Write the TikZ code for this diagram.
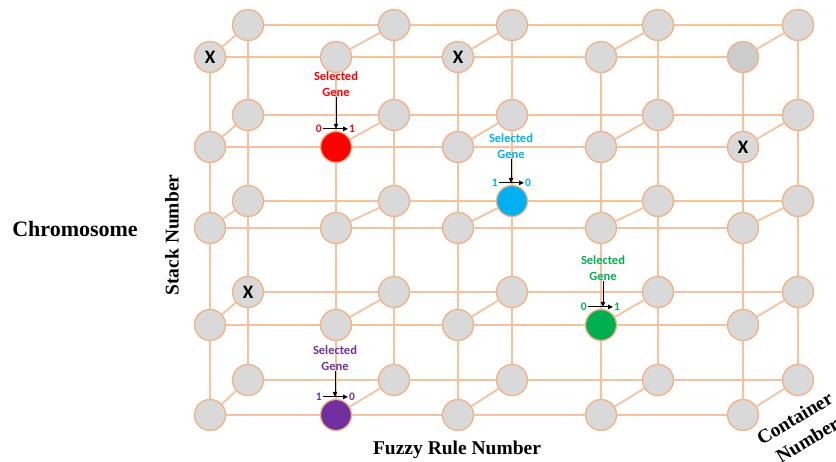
\documentclass[tikz,border=0pt]{standalone}
\usepackage{fontspec}
\setmainfont{Liberation Serif}
\newfontfamily\calibri{Carlito}
\usetikzlibrary{positioning,arrows.meta,backgrounds}
\definecolor{peach}{RGB}{246,194,158}
\definecolor{peachdark}{RGB}{244,177,131}
\definecolor{cellgray}{RGB}{217,217,217}
\definecolor{darkcell}{RGB}{204,204,204}
\definecolor{genered}{RGB}{255,0,0}
\definecolor{geneblue}{RGB}{0,176,240}
\definecolor{genegreen}{RGB}{0,176,80}
\definecolor{genepurple}{RGB}{112,48,160}
\newcommand{\gene}[5]{%
	\node[sel,text=#2] (#1-sel) at (#3) {Selected\\Gene};
	\coordinate (#1-l) at ([xshift=-13pt,yshift=2pt]#1.north);
	\coordinate (#1-r) at ([xshift=12pt,yshift=2pt]#1.north);
	\draw[flip] (#1-sel) -- (#1-sel |- #1-l);
	\draw[flip] (#1-l) -- (#1-r);
	\node[bit,text=#2,left=1pt of #1-l] (#1-lo) {#4};
	\node[bit,text=#2,right=1pt of #1-r] (#1-hi) {#5};
}
\tikzset{
	cell/.style={circle,draw=peachdark,line width=1.3pt,fill=cellgray,minimum size=31pt,inner sep=0pt},
	link/.style={peach,line width=1.8pt},
	sel/.style={font=\calibri\bfseries\fontsize{12.5}{16}\selectfont,align=center,inner sep=0pt},
	bit/.style={font=\calibri\bfseries\fontsize{11.5}{12}\selectfont,inner sep=0pt},
	flip/.style={-{Triangle[length=5pt,width=4.5pt]},line width=1pt,black},
	xmark/.style={font=\calibri\bfseries\fontsize{19}{19}\selectfont,inner sep=0pt},
	axis/.style={font=\bfseries\fontsize{19.5}{25}\selectfont,inner sep=0pt},
	f-2-2/.style={fill=genered},
	b-3-3/.style={fill=geneblue},
	f-4-4/.style={fill=genegreen},
	f-2-5/.style={fill=genepurple},
	f-5-1/.style={fill=darkcell}
}

\begin{document}
\begin{tikzpicture}[x=1pt,y=-1pt]
	\useasboundingbox (0,0) rectangle (836,461);
	\foreach \x [count=\i] in {210,336,458,601,743}
		\foreach \y [count=\j] in {57,147,228,325,415}
			\node[cell,f-\i-\j/.try] (f-\i-\j) at (\x,\y) {};
	\foreach \x [count=\i] in {248,394,512,658,798}
		\foreach \y [count=\j] in {25,115,201,292,380}
			\node[cell,b-\i-\j/.try] (b-\i-\j) at (\x,\y) {};

	\foreach \p in {f,b}
		\foreach \i in {1,...,5}
			\foreach \j/\k in {1/2,2/3,3/4,4/5} {
				\draw[link] (\p-\i-\j) -- (\p-\i-\k);
				\draw[link] (\p-\j-\i) -- (\p-\k-\i);
			}
	\foreach \i in {1,...,5}
		\foreach \j in {1,...,5}
			\draw[link] (f-\i-\j) -- (b-\i-\j);

	\node[xmark] (x1) at (f-1-1) {X};
	\node[xmark] (x2) at (f-3-1) {X};
	\node[xmark] (x3) at (f-5-2) {X};
	\node[xmark] (x4) at (b-1-4) {X};

	\gene{f-2-2}{genered}{336,84}{0}{1}
	\gene{b-3-3}{geneblue}{511,146}{1}{0}
	\gene{f-4-4}{genegreen}{603,268}{0}{1}
	\gene{f-2-5}{genepurple}{335,358}{1}{0}

	\node[axis,font=\bfseries\fontsize{22}{26}\selectfont] (chrom) at (75,229) {Chromosome};
	\node[axis,rotate=90] (stack) at (172,235) {Stack Number};
	\node[axis] (fuzzy) at (457,450) {Fuzzy Rule Number};
	\node[axis,rotate=31,align=center] (cont) at (801,429) {Container\\Number};
\end{tikzpicture}
\end{document}
